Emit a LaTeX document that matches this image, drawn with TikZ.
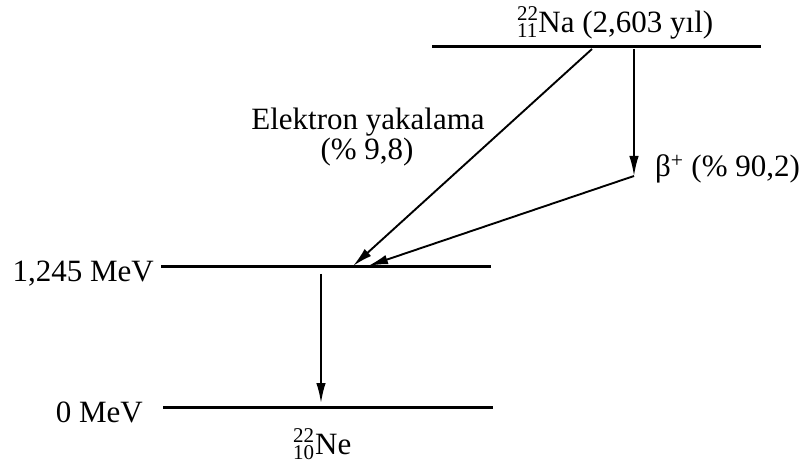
\documentclass[tikz,border=0pt]{standalone}
\usepackage{fontspec}
\setmainfont{Liberation Serif}
\usetikzlibrary{arrows.meta}
\newcommand\nucl[3]{{\fontsize{21}{21}\selectfont\rlap{\raisebox{12pt}{#1}}\raisebox{-5pt}{#2}}\kern1pt#3}
\begin{document}
\begin{tikzpicture}[x=1pt,y=-1pt,
  level/.style={line width=3pt},
  trans/.style={line width=1.9pt,-{Latex[length=20pt,width=9.5pt]}},
  lbl/.style={inner sep=0pt,font=\fontsize{31}{37}\selectfont}]
\useasboundingbox (0,0) rectangle (807,468);
% levels
\coordinate (naL) at (432,47);  \coordinate (naR) at (761,47);
\coordinate (exL) at (161,267); \coordinate (exR) at (491,267);
\coordinate (gsL) at (163,407); \coordinate (gsR) at (493,407);
\draw[level] (naL) -- (naR);
\draw[level] (exL) -- (exR);
\draw[level] (gsL) -- (gsR);
% transition points
\coordinate (ecS) at (592,49);
\coordinate (ecE) at (353,266);
\coordinate (bS) at (634,49);
\coordinate (bM) at (634,176);
\coordinate (bE) at (368,266);
\coordinate (gS) at (321,274);
\coordinate (gE) at (321,403);
\draw[trans] (ecS) -- (ecE);
\draw[trans] (bS) -- (bM);
\draw[trans] (bM) -- (bE);
\draw[trans] (gS) -- (gE);
% labels
\node[lbl,anchor=base west] (na) at (517,33) {\nucl{22}{11}{Na} (2,603 yıl)};
\node[lbl,anchor=base west] (ne) at (293,454) {\nucl{22}{10}{Ne}};
\node[lbl,anchor=base east] (e1) at (154,282) {1,245 MeV};
\node[lbl,anchor=base east] (e0) at (143,422) {0 MeV};
\node[lbl,anchor=base] (ec1) at (368,130) {Elektron yakalama};
\node[lbl,anchor=base] (ec2) at (367,160) {(\% 9,8)};
\node[lbl,anchor=base west] (bp) at (655,177) {β\textsuperscript{+} (\% 90,2)};
\end{tikzpicture}
\end{document}
